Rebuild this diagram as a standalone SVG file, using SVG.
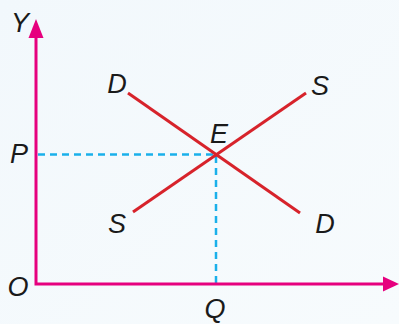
<svg xmlns="http://www.w3.org/2000/svg" width="399" height="324" viewBox="0 0 399 324">
<defs>
<linearGradient id="bg" x1="0" y1="0" x2="1" y2="1">
<stop offset="0" stop-color="#f2f8fc"/>
<stop offset="1" stop-color="#f7fbfd"/>
</linearGradient>
</defs>
<style>
.lbl{font-family:"Liberation Sans",Arial,sans-serif;font-size:27px;fill:#1a1a1a;text-anchor:middle;font-style:italic}
.axis{stroke:#e6007e;stroke-width:3;fill:none}
.curve{stroke:#d7232b;stroke-width:3;fill:none}
.dash{stroke:#1ab0ea;stroke-width:2.5;stroke-dasharray:7 5;fill:none}
.head{fill:#e6007e}
</style>
<rect width="399" height="324" fill="url(#bg)"/>
<g id="connectors">
<path class="dash" d="M38 154.5H216"/>
<path class="dash" d="M216 156V283"/>
<path class="axis" d="M36 35V284H385"/>
<polygon class="head" points="36,19 43.5,38 28.5,38"/>
<polygon class="head" points="399,284 383,276.5 383,291.5"/>
<path class="curve" d="M128 93L300 213"/>
<path class="curve" d="M133 212L306 93"/>
</g>
<g id="axis-y"><text class="lbl" x="20" y="32">Y</text></g>
<g id="label-P"><text class="lbl" x="19" y="163">P</text></g>
<g id="label-O"><text class="lbl" x="18" y="296">O</text></g>
<g id="label-Q"><text class="lbl" x="215" y="318">Q</text></g>
<g id="label-E"><text class="lbl" x="219" y="143">E</text></g>
<g id="demand-top"><text class="lbl" x="117" y="93">D</text></g>
<g id="demand-bottom"><text class="lbl" x="325" y="233">D</text></g>
<g id="supply-top"><text class="lbl" x="320" y="95">S</text></g>
<g id="supply-bottom"><text class="lbl" x="117" y="233">S</text></g>
</svg>
